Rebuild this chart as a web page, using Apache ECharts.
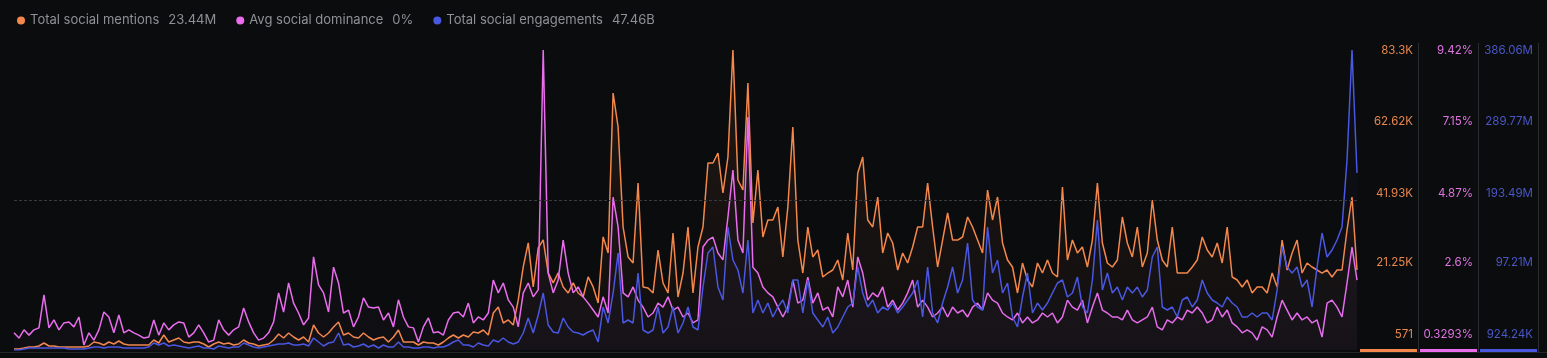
<!DOCTYPE html>
<html><head><meta charset="utf-8">
<script src="https://cdn.jsdelivr.net/npm/echarts@6/dist/echarts.min.js"></script>
<style>html,body{margin:0;padding:0;background:#0b0c0e;}#c{width:1547px;height:358px;}</style>
</head><body><div id="c"></div>
<script>
const seriesNames = ['Total social mentions', 'Avg social dominance', 'Total social engagements'];
const seriesTotals = ['23.44M', '0%', '47.46B'];

const mentionsK = [
0.85,0.85,1.12,1.40,1.40,1.67,2.50,1.67,1.67,1.40,1.40,1.40,1.40,1.40,1.40,1.67,2.78,2.50,1.95,2.78,2.23,3.05,2.23,1.95,1.95,1.95,1.95,1.95,3.33,2.50,
4.71,2.78,3.33,3.88,2.78,2.50,2.78,2.78,2.23,1.40,2.23,2.78,2.23,2.50,1.95,2.23,3.33,2.50,2.23,1.67,1.95,2.23,3.33,4.99,3.88,5.26,4.16,3.33,4.16,2.78,
7.47,5.26,4.16,5.26,6.92,8.30,4.71,5.26,4.16,3.88,5.26,4.16,3.33,3.88,4.16,2.78,4.16,6.09,2.78,2.78,2.78,1.95,2.78,2.50,2.50,1.95,2.78,3.88,4.71,3.88,
4.71,4.16,5.54,5.26,6.09,4.71,10.78,12.44,8.02,8.85,7.47,14.37,23.48,30.10,17.96,28.72,30.93,21.82,19.06,21.82,17.96,16.30,19.06,16.30,15.20,20.72,17.96,13.54,31.76,27.34,
71.44,62.07,34.49,26.22,24.56,46.62,17.96,17.67,16.29,28.15,19.05,16.29,32.84,15.19,21.80,34.49,16.29,28.97,34.49,52.14,52.14,54.90,43.87,53.79,83.30,47.45,44.69,74.20,35.59,50.21,
31.73,36.42,36.42,40.00,26.22,40.00,62.07,30.90,21.80,34.49,26.22,28.15,20.70,21.80,22.63,25.39,19.87,32.84,22.63,49.38,53.79,36.42,34.49,42.76,27.32,32.84,30.08,22.63,27.32,24.56,
28.97,34.49,34.49,46.62,34.49,23.46,30.90,38.35,30.90,30.90,31.73,37.25,34.49,30.90,27.32,44.69,36.42,42.76,30.08,25.39,23.46,16.29,24.56,19.87,17.96,24.56,21.80,25.39,21.80,20.70,
45.52,25.39,30.90,27.32,28.97,23.46,30.90,46.62,30.08,24.56,23.46,25.39,37.25,30.08,26.22,34.49,23.46,27.32,41.94,30.90,25.39,23.46,34.49,21.80,21.80,21.80,23.46,25.39,31.73,28.15,
26.22,30.08,24.56,34.49,20.70,19.87,17.96,19.87,16.29,17.96,17.96,16.29,21.80,17.96,30.90,22.63,27.32,30.90,21.80,24.56,23.46,22.63,21.80,22.63,20.70,22.63,22.63,33.66,42.76,22.63
];

const dominancePct = [
0.85,0.69,0.94,0.78,0.94,1.00,2.00,1.00,1.24,0.94,1.15,1.18,1.03,1.33,0.48,0.85,0.63,0.94,1.48,1.33,0.85,1.39,0.85,0.94,0.85,0.78,0.69,0.72,1.24,0.78,
1.15,0.94,1.09,1.18,1.15,0.72,0.85,1.09,0.85,0.57,0.63,1.24,0.94,0.78,0.94,1.03,1.60,1.18,0.85,0.63,0.69,0.85,1.18,2.06,1.48,2.36,1.75,1.45,1.09,1.30,
3.15,2.30,2.06,1.48,2.84,2.36,1.45,1.54,1.03,1.33,1.91,1.63,1.60,1.63,1.24,1.45,1.03,1.85,1.33,1.03,1.00,0.57,1.03,1.30,0.85,0.88,0.78,1.24,1.45,1.48,
1.33,1.75,1.15,1.33,1.24,1.45,2.45,2.06,2.36,1.85,1.63,1.03,2.06,2.36,1.94,2.15,9.42,2.66,2.06,2.45,3.66,2.66,2.06,2.24,1.94,1.75,1.54,1.33,1.94,1.45,
4.96,4.06,2.06,1.94,2.24,1.84,1.63,1.33,1.45,1.75,1.63,1.94,1.54,1.63,1.33,1.45,1.15,1.24,3.45,3.66,3.75,3.27,3.06,4.36,5.78,3.66,3.27,7.39,2.84,2.66,
2.24,2.06,1.94,1.63,1.33,1.63,2.45,1.75,1.84,2.54,1.75,2.06,1.54,1.63,1.33,2.24,1.94,2.45,1.63,3.15,2.66,1.84,2.06,1.94,2.24,1.63,1.84,1.54,1.75,2.06,
2.45,1.63,1.84,1.63,1.33,1.45,1.63,1.33,1.63,1.45,1.54,1.33,1.63,1.75,1.54,2.06,1.84,1.75,1.45,1.33,1.24,1.45,1.15,1.33,1.15,1.24,1.45,1.33,1.45,1.15,
1.33,1.84,1.63,1.54,1.84,1.15,1.63,2.06,1.54,1.45,1.33,1.33,1.24,1.54,1.24,1.15,1.24,1.33,1.63,1.03,0.94,1.24,1.15,1.33,1.24,1.54,1.45,1.63,1.45,1.15,
1.24,1.63,1.33,1.54,1.15,1.03,0.85,0.94,0.85,0.63,1.03,0.94,0.72,1.33,1.84,1.54,1.24,1.45,1.24,1.33,1.15,1.24,0.72,1.75,1.84,1.63,1.33,2.36,3.45,2.45
];

const engagementsM = [
0.92,0.92,2.21,3.49,3.49,3.49,3.49,3.49,3.49,3.49,3.49,2.21,2.21,2.21,2.21,3.49,4.78,4.78,3.49,4.78,4.78,4.78,3.49,3.49,3.49,3.49,3.49,4.78,9.91,7.34,
9.91,6.06,7.34,6.06,4.78,3.49,4.78,6.06,3.49,3.49,2.21,6.06,4.78,3.49,4.78,4.78,9.91,7.34,4.78,3.49,4.78,6.06,7.34,8.63,8.63,9.91,7.34,7.34,8.63,6.06,
16.33,11.20,6.06,9.91,11.20,22.75,7.34,8.63,4.78,6.06,8.63,4.78,7.34,3.49,7.34,4.78,4.78,11.20,4.78,4.78,3.49,3.49,4.78,4.78,3.49,4.78,4.78,7.34,11.20,13.76,
7.34,7.34,4.78,9.91,7.34,6.06,13.76,11.20,16.33,11.20,8.63,11.20,22.75,42.01,22.75,45.86,74.11,33.02,24.04,22.75,42.01,30.46,24.04,22.75,20.18,24.04,26.60,11.20,56.13,35.59,
74.10,125.45,35.59,39.44,35.59,99.77,26.60,22.75,26.60,56.13,22.75,30.45,56.13,22.75,35.59,56.13,30.45,26.60,81.80,125.45,133.16,81.80,65.11,158.83,116.47,103.63,74.10,142.14,48.42,65.11,
48.42,61.26,43.29,56.13,65.11,48.42,90.79,90.79,48.42,90.79,48.42,39.44,30.45,43.29,22.75,30.45,43.29,56.13,61.26,107.48,74.10,56.13,65.11,48.42,56.13,52.28,61.26,48.42,56.13,65.11,
74.10,90.79,43.29,107.48,48.42,35.59,61.26,81.80,107.48,74.10,90.79,138.29,65.11,56.13,52.28,158.83,99.77,116.47,74.10,86.94,43.29,30.45,68.96,99.77,48.42,61.26,52.28,61.26,74.10,86.94,
90.79,68.96,74.10,94.64,56.13,48.42,90.79,167.82,77.95,99.77,74.10,81.80,65.11,81.80,74.10,81.80,68.96,77.95,120.32,133.16,56.13,52.28,56.13,43.29,65.11,68.96,56.13,65.11,90.79,74.10,
65.11,61.26,56.13,68.96,61.26,56.13,43.29,43.29,48.42,43.29,48.42,48.42,39.44,77.95,133.16,107.48,99.77,107.48,81.80,90.79,56.13,107.48,151.13,120.32,129.30,142.14,158.83,244.84,386.06,228.15
];

const days = mentionsK.map((_, i) => i);

const mentionsTicks = ['571', '21.25K', '41.93K', '62.62K', '83.3K'];
const dominanceTicks = ['0.3293%', '2.6%', '4.87%', '7.15%', '9.42%'];
const engagementsTicks = ['924.24K', '97.21M', '193.49M', '289.77M', '386.06M'];
const mentionsRange = [571, 83300];
const dominanceRange = [0.3293, 9.42];
const engagementsRange = [924240, 386060000];
const referenceLevel = 41930;

const mentions = mentionsK.map(v => v * 1000);
const engagements = engagementsM.map(v => v * 1e6);

const COLORS = ['#f4884c', '#ea6ded', '#4a57e0'];
const LABEL_COLORS = ['#e8864d', '#df74e2', '#4a57c6'];
const FONT = 'Inter, "Noto Sans", sans-serif';
const labelFrac = [0.053, 0.29, 0.523, 0.76, 0.997];

function makeY(range, ticks, color, margin) {
  const custom = labelFrac.map(f => range[0] + f * (range[1] - range[0]));
  return {
    type: 'value', position: 'right', min: range[0], max: range[1],
    splitLine: { show: false }, axisLine: { show: false }, axisTick: { show: false },
    axisLabel: {
      customValues: custom,
      formatter: function (v) {
        let best = 0;
        custom.forEach((c, i) => { if (Math.abs(c - v) < Math.abs(custom[best] - v)) best = i; });
        return ticks[best];
      },
      color: color, fontSize: 11.5, fontFamily: FONT, align: 'right', margin: margin
    }
  };
}

function area(rgb, a0, a1) {
  return {
    origin: 'start',
    color: new echarts.graphic.LinearGradient(0, 0, 0, 1, [
      { offset: 0, color: 'rgba(' + rgb + ',' + a0 + ')' },
      { offset: 1, color: 'rgba(' + rgb + ',' + a1 + ')' }
    ])
  };
}

const chart = echarts.init(document.getElementById('c'), null, { renderer: 'canvas' });
chart.setOption({
  backgroundColor: '#0b0c0e',
  animation: false,
  legend: {
    left: 12, top: 9, icon: 'circle', itemWidth: 8, itemHeight: 8, itemGap: 20,
    data: seriesNames,
    formatter: function (name) {
      const i = seriesNames.indexOf(name);
      return '{n|' + name + '}{v|' + seriesTotals[i] + '}';
    },
    textStyle: {
      color: '#8e9095', fontSize: 13, fontFamily: FONT,
      rich: {
        n: { color: '#8e9095', fontSize: 13, fontFamily: FONT, padding: [0, 9, 0, 0] },
        v: { color: '#8e9095', fontSize: 13, fontFamily: FONT }
      }
    }
  },
  grid: { left: 14, right: 190, top: 50, height: 300, containLabel: false },
  xAxis: {
    type: 'category', data: days, boundaryGap: false,
    axisLine: { show: false }, axisTick: { show: false }, axisLabel: { show: false }, splitLine: { show: false }
  },
  yAxis: [
    makeY(mentionsRange, mentionsTicks, LABEL_COLORS[0], 56),
    makeY(dominanceRange, dominanceTicks, LABEL_COLORS[1], 116),
    makeY(engagementsRange, engagementsTicks, LABEL_COLORS[2], 176)
  ],
  series: [
    {
      name: seriesNames[0], type: 'line', yAxisIndex: 0, data: mentions, symbol: 'none',
      lineStyle: { width: 1.5, color: COLORS[0] }, itemStyle: { color: COLORS[0] },
      areaStyle: area('249,138,75', 0.13, 0.03), z: 2,
      markLine: {
        silent: true, symbol: 'none', label: { show: false },
        lineStyle: { color: '#3a3b3f', type: [3, 2], width: 1 },
        data: [{ yAxis: referenceLevel }]
      }
    },
    {
      name: seriesNames[1], type: 'line', yAxisIndex: 1, data: dominancePct, symbol: 'none',
      lineStyle: { width: 1.5, color: COLORS[1] }, itemStyle: { color: COLORS[1] },
      areaStyle: area('150,90,200', 0.06, 0.04), z: 3
    },
    {
      name: seriesNames[2], type: 'line', yAxisIndex: 2, data: engagements, symbol: 'none',
      lineStyle: { width: 1.5, color: COLORS[2] }, itemStyle: { color: COLORS[2] },
      areaStyle: area('80,80,170', 0.06, 0.04), z: 4
    }
  ],
  graphic: [
    { type: 'line', shape: { x1: 0, y1: 352.5, x2: 1547, y2: 352.5 }, style: { stroke: '#25262a', lineWidth: 1 }, silent: true },
    { type: 'line', shape: { x1: 1418.5, y1: 43, x2: 1418.5, y2: 352 }, style: { stroke: '#2b2c30', lineWidth: 1 }, silent: true },
    { type: 'line', shape: { x1: 1478.5, y1: 43, x2: 1478.5, y2: 352 }, style: { stroke: '#2b2c30', lineWidth: 1 }, silent: true },
    { type: 'line', shape: { x1: 1538.5, y1: 43, x2: 1538.5, y2: 352 }, style: { stroke: '#2b2c30', lineWidth: 1 }, silent: true },
    { type: 'rect', shape: { x: 1360, y: 349, width: 57, height: 3 }, style: { fill: COLORS[0] }, silent: true },
    { type: 'rect', shape: { x: 1420, y: 349, width: 57, height: 3 }, style: { fill: COLORS[1] }, silent: true },
    { type: 'rect', shape: { x: 1480, y: 349, width: 57, height: 3 }, style: { fill: COLORS[2] }, silent: true }
  ]
});
</script>
</body></html>
